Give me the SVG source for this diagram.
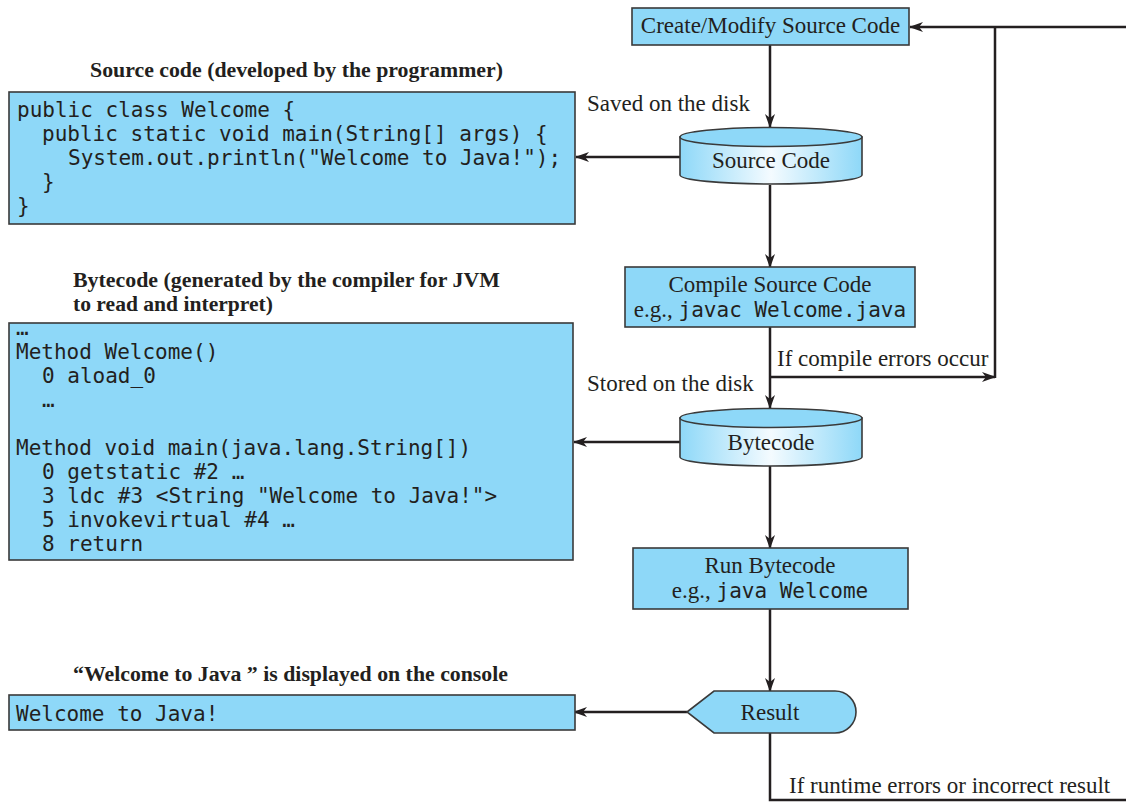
<svg xmlns="http://www.w3.org/2000/svg" width="1126" height="802" viewBox="0 0 1126 802">
  <style>
    .box { fill: #8ED8F8; stroke: #3a3a3a; stroke-width: 1.6; }
    .top { fill: #8ED8F8; stroke: #3a3a3a; stroke-width: 1.6; }
    .body { fill: url(#cylgrad); stroke: #3a3a3a; stroke-width: 1.6; }
    .lbl { font-family: "Liberation Serif", "Times New Roman", serif; font-size: 23px; fill: #231f20; }
    .ttl { font-family: "Liberation Serif", "Times New Roman", serif; font-size: 20.5px; font-weight: bold; fill: #231f20; }
    .mono { font-family: "DejaVu Sans Mono", "Liberation Mono", monospace; font-size: 21px; fill: #231f20; }
    .c { text-anchor: middle; }
    .ln { fill: none; stroke: #231f20; stroke-width: 2.5; }
    .arr { marker-end: url(#ah); }
  </style>
  <defs>
    <linearGradient id="cylgrad" x1="0" y1="0" x2="1" y2="0">
      <stop offset="0" stop-color="#8ED8F8"/>
      <stop offset="0.5" stop-color="#F4FBFF"/>
      <stop offset="1" stop-color="#8ED8F8"/>
    </linearGradient>
    <marker id="ah" markerUnits="userSpaceOnUse" viewBox="0 0 14 10" refX="13" refY="5" markerWidth="14" markerHeight="10" orient="auto">
      <path d="M0,0 L14,5 L0,10 L4,5 Z" fill="#231f20"/>
    </marker>
  </defs>
  <rect width="1126" height="802" fill="#ffffff"/>

  <g id="connectors">
    <line class="ln arr" x1="770" y1="45" x2="770" y2="127"/>
    <line class="ln arr" x1="680" y1="157" x2="576" y2="157"/>
    <line class="ln arr" x1="770" y1="185" x2="770" y2="267"/>
    <line class="ln arr" x1="770" y1="327" x2="770" y2="408"/>
    <line class="ln arr" x1="770" y1="377" x2="995" y2="377"/>
    <line class="ln" x1="995" y1="378" x2="995" y2="27"/>
    <line class="ln arr" x1="1126" y1="27" x2="910" y2="27"/>
    <line class="ln arr" x1="680" y1="442" x2="574" y2="442"/>
    <line class="ln arr" x1="770" y1="466" x2="770" y2="548"/>
    <line class="ln arr" x1="770" y1="609" x2="770" y2="691"/>
    <line class="ln arr" x1="687" y1="712" x2="574" y2="712"/>
    <polyline class="ln" points="770,733 770,800 1126,800"/>
    <text class="lbl" x="587" y="111">Saved on the disk</text>
    <text class="lbl" x="777" y="366">If compile errors occur</text>
    <text class="lbl" x="587" y="391">Stored on the disk</text>
    <text class="lbl" x="789" y="793">If runtime errors or incorrect result</text>
  </g>

  <g id="create">
    <rect class="box" x="632" y="8" width="277" height="37"/>
    <text class="lbl c" x="770.5" y="33">Create/Modify Source Code</text>
  </g>

  <g id="sourcecode-db">
    <path class="body" d="M680,137 L680,175 A91,9 0 0 0 862,175 L862,137 Z"/>
    <ellipse class="top" cx="771" cy="137" rx="91" ry="9.5"/>
    <text class="lbl c" x="771" y="168">Source Code</text>
  </g>

  <g id="compile">
    <rect class="box" x="625" y="267" width="290" height="60"/>
    <text class="lbl c" x="770" y="292">Compile Source Code</text>
    <text class="lbl c" x="770" y="317">e.g., <tspan class="mono">javac Welcome.java</tspan></text>
  </g>

  <g id="bytecode-db">
    <path class="body" d="M680,418 L680,457 A91,9 0 0 0 862,457 L862,418 Z"/>
    <ellipse class="top" cx="771" cy="418" rx="91" ry="9.5"/>
    <text class="lbl c" x="771" y="450">Bytecode</text>
  </g>

  <g id="run">
    <rect class="box" x="633" y="548" width="275" height="61"/>
    <text class="lbl c" x="770" y="573">Run Bytecode</text>
    <text class="lbl c" x="770" y="598">e.g., <tspan class="mono">java Welcome</tspan></text>
  </g>

  <g id="result">
    <path class="box" d="M687,712 L714,691 L835,691 A21,21 0 0 1 835,733 L714,733 Z"/>
    <text class="lbl c" x="770" y="720">Result</text>
  </g>

  <g id="source-box">
    <text class="ttl c" x="296.5" y="77" textLength="413" lengthAdjust="spacingAndGlyphs">Source code (developed by the programmer)</text>
    <rect class="box" x="9" y="92" width="566" height="132"/>
    <text class="mono" x="17" y="117">public class Welcome {</text>
    <text class="mono" x="42" y="141">public static void main(String[] args) {</text>
    <text class="mono" x="68" y="165">System.out.println("Welcome to Java!");</text>
    <text class="mono" x="42" y="189">}</text>
    <text class="mono" x="17" y="213">}</text>
  </g>

  <g id="bytecode-box">
    <text class="ttl" x="73" y="287" textLength="427" lengthAdjust="spacingAndGlyphs">Bytecode (generated by the compiler for JVM</text>
    <text class="ttl" x="73" y="311" textLength="200" lengthAdjust="spacingAndGlyphs">to read and interpret)</text>
    <rect class="box" x="9" y="323" width="564" height="237"/>
    <text class="mono" x="16" y="335">…</text>
    <text class="mono" x="16" y="359">Method Welcome()</text>
    <text class="mono" x="42" y="383">0 aload_0</text>
    <text class="mono" x="42" y="407">…</text>
    <text class="mono" x="16" y="455">Method void main(java.lang.String[])</text>
    <text class="mono" x="42" y="479">0 getstatic #2 …</text>
    <text class="mono" x="42" y="503">3 ldc #3 &lt;String "Welcome to Java!"&gt;</text>
    <text class="mono" x="42" y="527">5 invokevirtual #4 …</text>
    <text class="mono" x="42" y="551">8 return</text>
  </g>

  <g id="console-box">
    <text class="ttl c" x="290.5" y="681" textLength="435" lengthAdjust="spacingAndGlyphs">“Welcome to Java ” is displayed on the console</text>
    <rect class="box" x="9" y="695" width="566" height="35"/>
    <text class="mono" x="16" y="721">Welcome to Java!</text>
  </g>
</svg>
